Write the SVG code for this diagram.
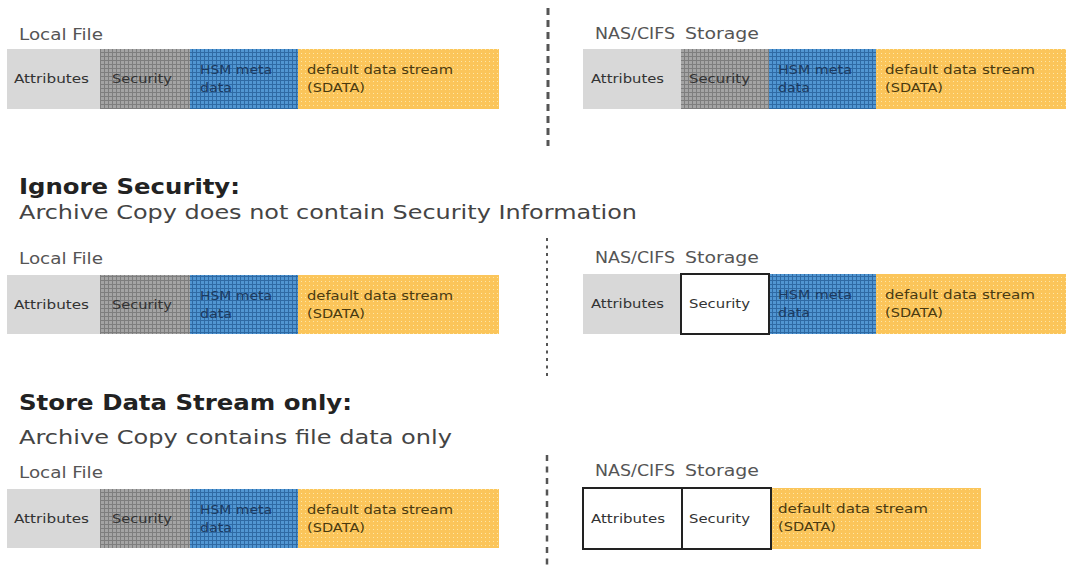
<svg xmlns="http://www.w3.org/2000/svg" width="1077" height="573" viewBox="0 0 1077 573">
<style>
.t{font-family:"DejaVu Sans","Liberation Sans",sans-serif;}
.cap{font-size:15.5px;fill:#555;}
.h{font-size:21px;font-weight:bold;fill:#222;}
.s{font-size:19px;fill:#444;}
.lb{font-size:11.5px;fill:#333;}
.lh{font-size:11.5px;fill:#1c3a60;}
.ld{font-size:11.5px;fill:#4a3a10;}
.attr{fill:#d8d8d8;}
.sec{fill:url(#pSec);}
.hsm{fill:url(#pHsm);}
.dat{fill:url(#pDat);}
.wb{fill:#fff;stroke:#222;stroke-width:2;}
.dash{fill:none;stroke:#555;}
</style>
<defs>
<pattern id="pSec" width="4" height="4" patternUnits="userSpaceOnUse"><rect width="4" height="4" fill="#a4a4a4"/><path d="M0 0.5H4M0.5 0V4" stroke="#7e7e7e" stroke-width="1"/></pattern>
<pattern id="pHsm" width="4" height="4" patternUnits="userSpaceOnUse"><rect width="4" height="4" fill="#5196d2"/><path d="M0 0.5H4M0.5 0V4" stroke="#2f6aa4" stroke-width="1"/></pattern>
<pattern id="pDat" width="4" height="4" patternUnits="userSpaceOnUse"><rect width="4" height="4" fill="#fbc55a"/><rect x="1" y="1" width="1" height="1" fill="#fde6a6"/></pattern>
</defs>

<g id="connectors">
<line class="dash" x1="548" y1="8" x2="548" y2="146" stroke-width="3" stroke-dasharray="7 5"/>
<line class="dash" x1="547" y1="238" x2="547" y2="376" stroke-width="2" stroke-dasharray="3 4.5" stroke="#777"/>
<line class="dash" x1="547" y1="455" x2="547" y2="568" stroke-width="2.5" stroke-dasharray="6 5.5"/>
</g>

<g id="headings">
<text class="t h" x="19" y="194" textLength="221" lengthAdjust="spacingAndGlyphs">Ignore Security:</text>
<text class="t s" x="19" y="219" textLength="618" lengthAdjust="spacingAndGlyphs">Archive Copy does not contain Security Information</text>
<text class="t h" x="19" y="410" textLength="333" lengthAdjust="spacingAndGlyphs">Store Data Stream only:</text>
<text class="t s" x="19" y="444" textLength="433" lengthAdjust="spacingAndGlyphs">Archive Copy contains file data only</text>
</g>

<!-- Row 1 -->
<g id="local1">
<text class="t cap" x="19" y="40" textLength="84" lengthAdjust="spacingAndGlyphs">Local File</text>
<rect class="attr" x="7" y="49" width="93" height="60"/>
<rect class="sec" x="100" y="49" width="90" height="60"/>
<rect class="hsm" x="190" y="49" width="108" height="60"/>
<rect class="dat" x="298" y="49" width="201" height="60"/>
<text class="t lb" x="14" y="83" textLength="75" lengthAdjust="spacingAndGlyphs">Attributes</text>
<text class="t lb" x="112" y="83" textLength="60" lengthAdjust="spacingAndGlyphs">Security</text>
<text class="t lh" x="200" y="74" textLength="72" lengthAdjust="spacingAndGlyphs">HSM meta</text>
<text class="t lh" x="200" y="92" textLength="32" lengthAdjust="spacingAndGlyphs">data</text>
<text class="t ld" x="307" y="74" textLength="146" lengthAdjust="spacingAndGlyphs">default data stream</text>
<text class="t ld" x="307" y="92" textLength="58" lengthAdjust="spacingAndGlyphs">(SDATA)</text>
</g>
<g id="nas1">
<text class="t cap" y="39"><tspan x="595" textLength="80" lengthAdjust="spacingAndGlyphs">NAS/CIFS</tspan><tspan x="685" textLength="74" lengthAdjust="spacingAndGlyphs">Storage</tspan></text>
<rect class="attr" x="583" y="49" width="98" height="60"/>
<rect class="sec" x="681" y="49" width="88" height="60"/>
<rect class="hsm" x="769" y="49" width="107" height="60"/>
<rect class="dat" x="876" y="49" width="190" height="60"/>
<text class="t lb" x="591" y="83" textLength="73" lengthAdjust="spacingAndGlyphs">Attributes</text>
<text class="t lb" x="689" y="83" textLength="61" lengthAdjust="spacingAndGlyphs">Security</text>
<text class="t lh" x="778" y="74" textLength="74" lengthAdjust="spacingAndGlyphs">HSM meta</text>
<text class="t lh" x="778" y="92" textLength="32" lengthAdjust="spacingAndGlyphs">data</text>
<text class="t ld" x="885" y="74" textLength="150" lengthAdjust="spacingAndGlyphs">default data stream</text>
<text class="t ld" x="885" y="92" textLength="58" lengthAdjust="spacingAndGlyphs">(SDATA)</text>
</g>

<!-- Row 2 -->
<g id="local2">
<text class="t cap" x="19" y="264" textLength="84" lengthAdjust="spacingAndGlyphs">Local File</text>
<rect class="attr" x="7" y="275" width="93" height="59"/>
<rect class="sec" x="100" y="275" width="90" height="59"/>
<rect class="hsm" x="190" y="275" width="108" height="59"/>
<rect class="dat" x="298" y="275" width="201" height="59"/>
<text class="t lb" x="14" y="309" textLength="75" lengthAdjust="spacingAndGlyphs">Attributes</text>
<text class="t lb" x="112" y="309" textLength="60" lengthAdjust="spacingAndGlyphs">Security</text>
<text class="t lh" x="200" y="300" textLength="72" lengthAdjust="spacingAndGlyphs">HSM meta</text>
<text class="t lh" x="200" y="318" textLength="32" lengthAdjust="spacingAndGlyphs">data</text>
<text class="t ld" x="307" y="300" textLength="146" lengthAdjust="spacingAndGlyphs">default data stream</text>
<text class="t ld" x="307" y="318" textLength="58" lengthAdjust="spacingAndGlyphs">(SDATA)</text>
</g>
<g id="nas2">
<text class="t cap" y="263"><tspan x="595" textLength="80" lengthAdjust="spacingAndGlyphs">NAS/CIFS</tspan><tspan x="685" textLength="74" lengthAdjust="spacingAndGlyphs">Storage</tspan></text>
<rect class="attr" x="583" y="274" width="98" height="60"/>
<rect class="hsm" x="769" y="274" width="107" height="60"/>
<rect class="dat" x="876" y="274" width="190" height="60"/>
<rect class="wb" x="681" y="274" width="88" height="60"/>
<text class="t lb" x="591" y="308" textLength="73" lengthAdjust="spacingAndGlyphs">Attributes</text>
<text class="t lb" x="689" y="308" textLength="61" lengthAdjust="spacingAndGlyphs">Security</text>
<text class="t lh" x="778" y="299" textLength="74" lengthAdjust="spacingAndGlyphs">HSM meta</text>
<text class="t lh" x="778" y="317" textLength="32" lengthAdjust="spacingAndGlyphs">data</text>
<text class="t ld" x="885" y="299" textLength="150" lengthAdjust="spacingAndGlyphs">default data stream</text>
<text class="t ld" x="885" y="317" textLength="58" lengthAdjust="spacingAndGlyphs">(SDATA)</text>
</g>

<!-- Row 3 -->
<g id="local3">
<text class="t cap" x="19" y="478" textLength="84" lengthAdjust="spacingAndGlyphs">Local File</text>
<rect class="attr" x="7" y="489" width="93" height="59"/>
<rect class="sec" x="100" y="489" width="90" height="59"/>
<rect class="hsm" x="190" y="489" width="108" height="59"/>
<rect class="dat" x="298" y="489" width="201" height="59"/>
<text class="t lb" x="14" y="523" textLength="75" lengthAdjust="spacingAndGlyphs">Attributes</text>
<text class="t lb" x="112" y="523" textLength="60" lengthAdjust="spacingAndGlyphs">Security</text>
<text class="t lh" x="200" y="514" textLength="72" lengthAdjust="spacingAndGlyphs">HSM meta</text>
<text class="t lh" x="200" y="532" textLength="32" lengthAdjust="spacingAndGlyphs">data</text>
<text class="t ld" x="307" y="514" textLength="146" lengthAdjust="spacingAndGlyphs">default data stream</text>
<text class="t ld" x="307" y="532" textLength="58" lengthAdjust="spacingAndGlyphs">(SDATA)</text>
</g>
<g id="nas3">
<text class="t cap" y="476"><tspan x="595" textLength="80" lengthAdjust="spacingAndGlyphs">NAS/CIFS</tspan><tspan x="685" textLength="74" lengthAdjust="spacingAndGlyphs">Storage</tspan></text>
<rect class="dat" x="771" y="488" width="210" height="61"/>
<rect class="wb" x="583" y="488" width="99" height="61"/>
<rect class="wb" x="682" y="488" width="89" height="61"/>
<text class="t lb" x="591" y="523" textLength="74" lengthAdjust="spacingAndGlyphs">Attributes</text>
<text class="t lb" x="689" y="523" textLength="61" lengthAdjust="spacingAndGlyphs">Security</text>
<text class="t ld" x="778" y="513" textLength="150" lengthAdjust="spacingAndGlyphs">default data stream</text>
<text class="t ld" x="778" y="531" textLength="58" lengthAdjust="spacingAndGlyphs">(SDATA)</text>
</g>
</svg>
